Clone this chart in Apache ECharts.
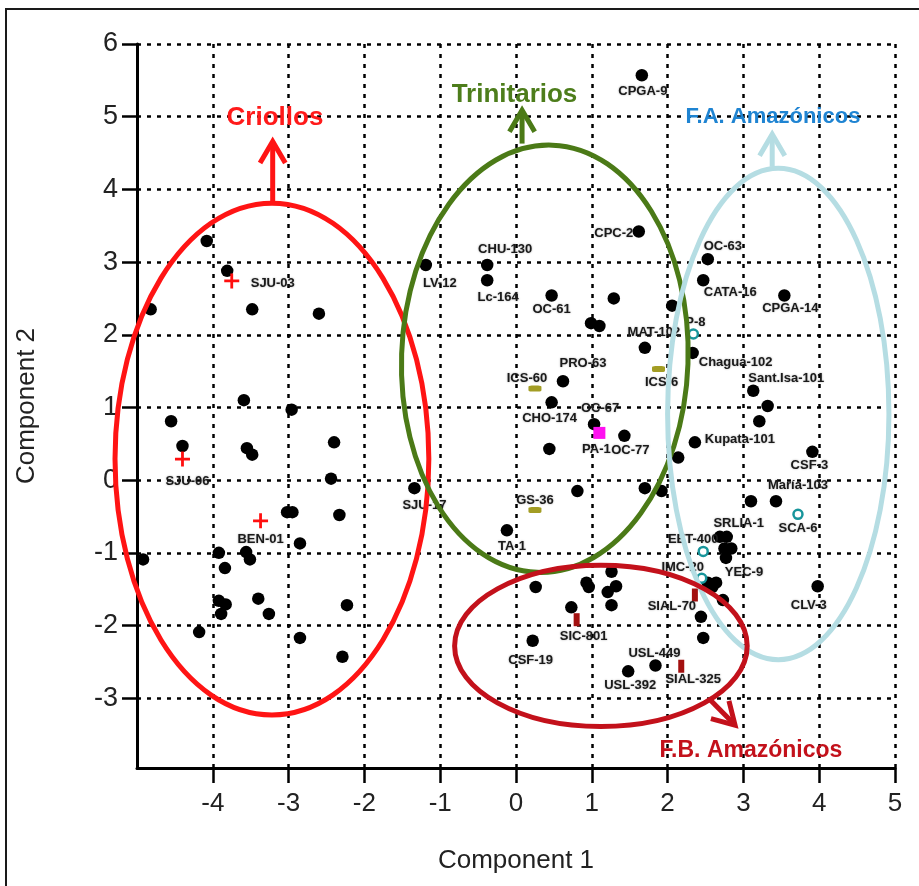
<!DOCTYPE html>
<html>
<head>
<meta charset="utf-8">
<title>PCA cacao accessions</title>
<script src="https://cdn.jsdelivr.net/npm/echarts@6.0.0/dist/echarts.min.js"></script>
<style>
  html, body { margin: 0; padding: 0; background: #fff; }
  #chart { width: 919px; height: 886px; }
</style>
</head>
<body>
<div id="chart"></div>
<script>
// ---- Data: PCA scores (Component 1, Component 2) ----
const labelledNames = [
  'LV-12', 'CHU-130', 'Lc-164', 'OC-61', 'CPC-2', 'CPGA-9', 'OC-63', 'CATA-16', 'CPGA-14',
  'MAT-102', 'Chagua-102', 'PRO-63', 'CHO-174', 'OC-67', 'OC-77', 'Kupata-101', 'Sant.Isa-101',
  'CSF-3', 'María-103', 'SRLIA-1', 'YEC-9', 'CLV-3', 'SJU-17', 'TA-1', 'CSF-19', 'USL-449', 'USL-392',
  'SJU-03', 'SJU-06', 'BEN-01',
  'ICS-60', 'ICS-6', 'GS-36',
  'PA-1',
  'P-8', 'EET-400', 'IMC-20', 'SCA-6',
  'SIC-801', 'SIAL-70', 'SIAL-325'
];
const labelledPc1 = [
  -1.19, -0.38, -0.38, 0.47, 1.62, 1.66, 2.53, 2.47, 3.54,
  1.70, 2.33, 0.62, 0.47, 1.03, 1.43, 2.36, 3.13,
  3.91, 3.43, 2.78, 2.77, 3.98, -1.34, -0.12, 0.22, 1.84, 1.48,
  -3.75, -4.40, -3.37,
  0.25, 1.88, 0.25,
  1.10,
  2.34, 2.47, 2.45, 3.72,
  0.80, 2.36, 2.18
];
const labelledPc2 = [
  2.96, 2.96, 2.75, 2.54, 3.42, 5.57, 3.04, 2.75, 2.54,
  1.82, 1.75, 1.36, 1.07, 0.77, 0.61, 0.52, 1.23,
  0.39, -0.29, -0.78, -1.07, -1.46, -0.11, -0.69, -2.21, -2.55, -2.63,
  2.74, 0.29, -0.56,
  1.26, 1.53, -0.41,
  0.65,
  2.01, -0.98, -1.35, -0.47,
  -1.92, -1.58, -2.56
];
const labelledKind = [
  'dot', 'dot', 'dot', 'dot', 'dot', 'dot', 'dot', 'dot', 'dot',
  'dot', 'dot', 'dot', 'dot', 'dot', 'dot', 'dot', 'dot',
  'dot', 'dot', 'dot', 'dot', 'dot', 'dot', 'dot', 'dot', 'dot', 'dot',
  'cross', 'cross', 'cross',
  'olive', 'olive', 'olive',
  'magenta',
  'ring', 'ring', 'ring', 'ring',
  'bar', 'bar', 'bar'
];

// accessions plotted without a label
const otherPc1 = [
  -4.08, -3.81, -4.82, -3.48, -2.60, -3.59, -2.96, -4.55, -4.40, -3.55, -3.48, -2.40, -2.44,
  -3.02, -2.95, -2.33, -2.85, -4.92, -3.92, -3.56, -3.51, -3.84, -3.92, -3.83, -3.89, -3.40,
  -3.26, -2.23, -4.18, -2.85, -2.29,
  1.29, 2.06, 0.99, 1.10, 0.44, 2.14, 0.81, 1.70, 1.92, 3.32, 3.21, 3.10, 2.69, 2.75, 2.84,
  2.53, 2.64, 2.59, 2.73, 2.44, 2.47,
  0.26, 0.93, 0.96, 1.26, 1.32, 1.21, 1.26, 0.73
];
const otherPc2 = [
  3.29, 2.88, 2.35, 2.35, 2.29, 1.10, 0.97, 0.81, 0.47, 0.44, 0.35, 0.52, 0.02,
  -0.44, -0.44, -0.48, -0.87, -1.09, -1.00, -0.99, -1.09, -1.21, -1.66, -1.71, -1.84, -1.63,
  -1.84, -1.72, -2.09, -2.17, -2.43,
  2.50, 2.40, 2.16, 2.12, 0.43, 0.31, -0.15, -0.11, -0.15, 1.02, 0.81, -0.29, -0.78, -0.94, -0.94,
  -1.41, -1.41, -1.47, -1.65, -1.88, -2.17,
  -1.47, -1.41, -1.47, -1.26, -1.46, -1.54, -1.72, -1.75
];

const xTicks = [-4, -3, -2, -1, 0, 1, 2, 3, 4, 5];
const yTicks = [-3, -2, -1, 0, 1, 2, 3, 4, 5, 6];
const groupTitles = ['Criollos', 'Trinitarios', 'F.A. Amazónicos', 'F.B. Amazónicos'];

// ---- Presentation ----
// label centre relative to its marker, in pixels
const labelOffset = {
  'SJU-03': [41, 2], 'SJU-06': [5, 22], 'BEN-01': [0, 19], 'SJU-17': [10, 17],
  'LV-12': [14, 18], 'CHU-130': [18, -16], 'Lc-164': [11, 17], 'OC-61': [0, 14],
  'CPC-2': [-25, 2], 'CPGA-9': [1, 16], 'OC-63': [15, -13], 'CATA-16': [27, 12],
  'CPGA-14': [6, 13], 'MAT-102': [9, -15], 'P-8': [2, -12], 'Chagua-102': [43, 9],
  'ICS-6': [3, 13], 'ICS-60': [-8, -10], 'PRO-63': [20, -18], 'CHO-174': [-2, 16],
  'OC-67': [6, -16], 'PA-1': [-3, 17], 'OC-77': [6, 15], 'Kupata-101': [45, -3],
  'Sant.Isa-101': [33, -12], 'CSF-3': [-3, 14], 'María-103': [22, -16], 'SCA-6': [0, 14],
  'SRLIA-1': [12, -13], 'EET-400': [-10, -12], 'IMC-20': [-19, -11], 'YEC-9': [18, 14],
  'CLV-3': [-9, 19], 'SIAL-70': [-23, 11], 'SIC-801': [7, 17], 'CSF-19': [-2, 20],
  'USL-449': [-1, -12], 'USL-392': [2, 14], 'SIAL-325': [12, 13], 'TA-1': [5, 16],
  'GS-36': [0, -10]
};

const markerStyle = {
  dot:     { symbol: 'circle', symbolSize: 12.5, itemStyle: { color: '#000', opacity: 1 } },
  cross:   { symbol: 'path://M-1.4,-7.5 H1.4 V-1.4 H7.5 V1.4 H1.4 V7.5 H-1.4 V1.4 H-7.5 V-1.4 H-1.4 Z',
             symbolSize: 15, itemStyle: { color: '#ff0f0f', opacity: 1 } },
  olive:   { symbol: 'roundRect', symbolSize: [13, 6], itemStyle: { color: '#a39d24', opacity: 1 } },
  magenta: { symbol: 'rect', symbolSize: [12, 12], itemStyle: { color: '#ff10f0', opacity: 1 } },
  ring:    { symbol: 'circle', symbolSize: 9,
             itemStyle: { color: '#ffffff', borderColor: '#17959b', borderWidth: 2.5, opacity: 1 } },
  bar:     { symbol: 'rect', symbolSize: [6, 13], itemStyle: { color: '#a3100f', opacity: 1 } }
};

// cluster outlines (data units), their arrows and titles
const outlines = [
  { cx: -3.22, cy: 0.29, rx: 2.07, ry: 3.52, rot: 0, stroke: '#ff1414', text: '#ff1a1a',
    from: [-3.21, 3.82], to: [-3.21, 4.66], at: [-3.18, 4.98], size: 26 },
  { cx: 0.38, cy: 1.67, rx: 1.89, ry: 2.94, rot: -0.035, stroke: '#4b7a17', text: '#4d7d1b',
    from: [0.08, 4.63], to: [0.08, 5.09], at: [-0.02, 5.30], size: 26 },
  { cx: 3.46, cy: 0.91, rx: 1.46, ry: 3.38, rot: 0, stroke: '#b5dde3', text: '#1f84d2',
    from: [3.38, 4.31], to: [3.38, 4.76], at: [3.39, 4.99], size: 22 },
  { cx: 1.12, cy: -2.28, rx: 1.93, ry: 1.11, rot: 0, stroke: '#c3111b', text: '#c3111b',
    from: [2.56, -3.02], to: [2.89, -3.37], at: [3.10, -3.72], size: 23 }
];

const tickFont = "'Liberation Sans', Arial, sans-serif";
const labelFont = "'Liberation Sans', Arial, sans-serif";

// ---- Series ----
const kinds = ['dot', 'cross', 'olive', 'magenta', 'ring', 'bar'];
const scatterSeries = kinds.map(kind => {
  const items = [];
  labelledNames.forEach((name, i) => {
    if (labelledKind[i] !== kind) return;
    items.push({
      name: name,
      value: [labelledPc1[i], labelledPc2[i]],
      label: { offset: labelOffset[name] || [0, 14] }
    });
  });
  return Object.assign({
    type: 'scatter',
    name: kind,
    z: 3,
    data: items,
    label: {
      show: true,
      formatter: '{b}',
      position: 'inside',
      align: 'center',
      verticalAlign: 'middle',
      fontFamily: labelFont,
      fontSize: 13,
      fontWeight: 'bold',
      color: '#1a1a1a',
      textShadowColor: 'rgba(0,0,0,0.35)',
      textShadowBlur: 2
    },
    emphasis: { disabled: true }
  }, markerStyle[kind]);
});

scatterSeries.unshift(Object.assign({
  type: 'scatter',
  name: 'unlabelled',
  z: 3,
  data: otherPc1.map((x, i) => [x, otherPc2[i]]),
  emphasis: { disabled: true }
}, markerStyle.dot));

const outlineSeries = {
  type: 'custom',
  name: 'groups',
  z: 6,
  clip: false,
  silent: true,
  data: outlines.map(o => [o.cx, o.cy]),
  renderItem: function (params, api) {
    const o = outlines[params.dataIndex];
    const c = api.coord([o.cx, o.cy]);
    const r = api.size([o.rx, o.ry]);
    const a0 = api.coord(o.from);
    const a1 = api.coord(o.to);
    const ang = Math.atan2(a1[1] - a0[1], a1[0] - a0[0]);
    const head = 25, spread = 0.53;
    const h1 = [a1[0] - head * Math.cos(ang - spread), a1[1] - head * Math.sin(ang - spread)];
    const h2 = [a1[0] - head * Math.cos(ang + spread), a1[1] - head * Math.sin(ang + spread)];
    const t = api.coord(o.at);
    return {
      type: 'group',
      children: [
        {
          type: 'ellipse',
          shape: { cx: c[0], cy: c[1], rx: r[0], ry: r[1] },
          rotation: o.rot, originX: c[0], originY: c[1],
          style: { fill: null, stroke: o.stroke, lineWidth: 5 }
        },
        {
          type: 'polyline',
          shape: { points: [a0, a1] },
          style: { fill: null, stroke: o.stroke, lineWidth: 5 }
        },
        {
          type: 'polyline',
          shape: { points: [h1, a1, h2] },
          style: { fill: null, stroke: o.stroke, lineWidth: 5, lineJoin: 'miter' }
        },
        {
          type: 'text',
          x: t[0], y: t[1],
          style: {
            text: groupTitles[params.dataIndex],
            fill: o.text,
            font: 'bold ' + o.size + 'px ' + labelFont,
            align: 'center',
            verticalAlign: 'middle',
            shadowColor: 'rgba(0,0,0,0.3)',
            shadowBlur: 3
          }
        }
      ]
    };
  }
};

const gridLine = { show: true, lineStyle: { color: '#000', width: 2.5, type: [4, 6] } };

const option = {
  animation: false,
  backgroundColor: '#ffffff',
  grid: { left: 137, right: 24, top: 44, bottom: 118 },
  xAxis: {
    type: 'value',
    min: -5, max: 5, interval: 1,
    name: 'Component 1',
    nameLocation: 'middle',
    nameGap: 80,
    nameTextStyle: { fontFamily: tickFont, fontSize: 26, color: '#222' },
    axisLine: { onZero: false, lineStyle: { color: '#000', width: 3 } },
    axisTick: { length: 15, lineStyle: { color: '#000', width: 2.5 }, customValues: xTicks },
    axisLabel: {
      customValues: xTicks,
      margin: 23, fontFamily: tickFont, fontSize: 26, color: '#222',
      formatter: v => (xTicks.indexOf(v) >= 0 ? String(v) : '')
    },
    splitLine: gridLine
  },
  yAxis: {
    type: 'value',
    min: -3.96, max: 6, splitNumber: 10,
    name: 'Component 2',
    nameLocation: 'middle',
    nameGap: 97,
    nameTextStyle: { fontFamily: tickFont, fontSize: 26, color: '#222' },
    axisLine: { onZero: false, lineStyle: { color: '#000', width: 3 } },
    axisTick: { length: 15, lineStyle: { color: '#000', width: 2.5 }, customValues: yTicks },
    axisLabel: {
      customValues: yTicks,
      margin: 19, fontFamily: tickFont, fontSize: 27, color: '#222',
      formatter: v => (yTicks.indexOf(v) >= 0 ? String(v) : '')
    },
    splitLine: gridLine
  },
  graphic: [
    {
      type: 'rect',
      shape: { x: 6, y: 9, width: 940, height: 900 },
      style: { fill: null, stroke: '#1a1a1a', lineWidth: 2 },
      silent: true
    }
  ],
  series: scatterSeries.concat([outlineSeries])
};

const chart = echarts.init(document.getElementById('chart'), null, { renderer: 'canvas' });
chart.setOption(option);
</script>
</body>
</html>
